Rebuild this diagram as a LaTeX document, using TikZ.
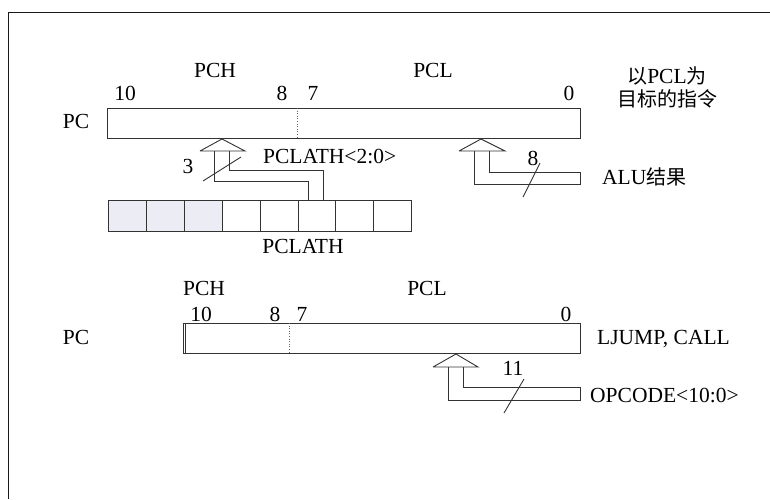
\documentclass[tikz,border=0pt]{standalone}
\usepackage{fontspec}
\setmainfont{Liberation Serif}
\newfontfamily\cjk{Noto Sans CJK SC}
\begin{document}
\begin{tikzpicture}[x=1pt,y=-1pt,
  lbl/.style={font=\fontsize{21.5}{23}\selectfont, inner sep=0pt, anchor=base},
  lbll/.style={lbl, anchor=base west},
  reg/.style={draw=black!80, line width=0.9pt, minimum height=30pt, inner sep=0pt, anchor=north west},
  cell/.style={draw=black!80, line width=0.9pt, minimum width=37.9pt, minimum height=31pt, inner sep=0pt, anchor=north west},
  wire/.style={draw=black!80, line width=0.9pt},
  tick/.style={draw=black!60, line width=0.6pt, dotted}]
\useasboundingbox (0,0) rectangle (770,499);
% frame
\draw[line width=1pt, black!90] (8,499) -- (8,12) -- (770,12);

% ---------- top register ----------
\node[reg, minimum width=473pt] (pc1) at (107,108) {};
\coordinate (d1t) at (297,108);
\coordinate (d1b) at (297,138);
\draw[tick] (d1t) -- (d1b);
\node[lbl] (pch1) at (215,77) {PCH};
\node[lbl] (pcl1) at (433,77) {PCL};
\node[lbl] (b10a) at (125,100) {10};
\node[lbl] (b8a) at (282,100) {8};
\node[lbl] (b7a) at (313,100) {7};
\node[lbl] (b0a) at (569,100) {0};
\node[lbl] (pca) at (76,128) {PC};
\node[lbl, font=\fontsize{20}{22}\selectfont\cjk] (t1a) at (667,83) {以\fontspec{Liberation Serif}\fontsize{21.5}{23}\selectfont PCL\cjk\fontsize{20}{22}\selectfont 为};
\node[lbl, font=\fontsize{20}{22}\selectfont\cjk] (t1b) at (667,106) {目标的指令};

% PCLATH register
\foreach \i in {0,...,7} {
  \node[cell] (c\i) at (108+37.9*\i,200) {};
}
\foreach \i in {0,1,2} {
  \node[cell, fill=blue!25!gray!12] at (108+37.9*\i,200) {};
}
\node[lbl] (pclath) at (303,253) {PCLATH};

% arrow from PCLATH
\coordinate (a1) at (222,139);
\draw[wire] (200,151) -- (a1) -- (245,151) -- (200,151);
\draw[wire] (214,151) -- (214,181) -- (308,181) -- (308,200);
\draw[wire] (229,151) -- (229,170) -- (323,170) -- (323,200);
\draw[wire] (203,181) -- (241,157);
\node[lbl] (n3) at (188,173) {3};
\node[lbll] (pl20) at (263,163) {PCLATH<2:0>};

% ALU arrow
\coordinate (a2) at (481,139);
\draw[wire] (459,151) -- (a2) -- (505,151) -- (459,151);
\draw[wire] (474,151) -- (474,184) -- (580,184) -- (580,172) -- (489,172) -- (489,151);
\draw[wire] (523,197) -- (540,163);
\node[lbl] (n8) at (533,165) {8};
\node[lbll] (alu) at (602,184) {ALU{\cjk\fontsize{20}{22}\selectfont 结果}};

% ---------- bottom register ----------
\node[reg, minimum width=397pt] (pc2) at (183,323) {};
\draw[wire] (185.5,323) -- (185.5,353);
\coordinate (d2t) at (289,323);
\coordinate (d2b) at (289,353);
\draw[tick] (d2t) -- (d2b);
\node[lbl] (pch2) at (204,295) {PCH};
\node[lbl] (pcl2) at (427,295) {PCL};
\node[lbl] (b10b) at (201,321) {10};
\node[lbl] (b8b) at (275,321) {8};
\node[lbl] (b7b) at (302,321) {7};
\node[lbl] (b0b) at (566,321) {0};
\node[lbl] (pcb) at (76,344) {PC};
\node[lbll] (lj) at (597,344) {LJUMP, CALL};

% OPCODE arrow
\coordinate (a3) at (456,354);
\draw[wire] (433,367) -- (a3) -- (478,367) -- (433,367);
\draw[wire] (448,367) -- (448,400) -- (580,400) -- (580,387) -- (463,387) -- (463,367);
\draw[wire] (504,413) -- (524,379);
\node[lbl] (n11) at (513,375) {11};
\node[lbll] (opc) at (590,402) {OPCODE<10:0>};
\end{tikzpicture}
\end{document}
